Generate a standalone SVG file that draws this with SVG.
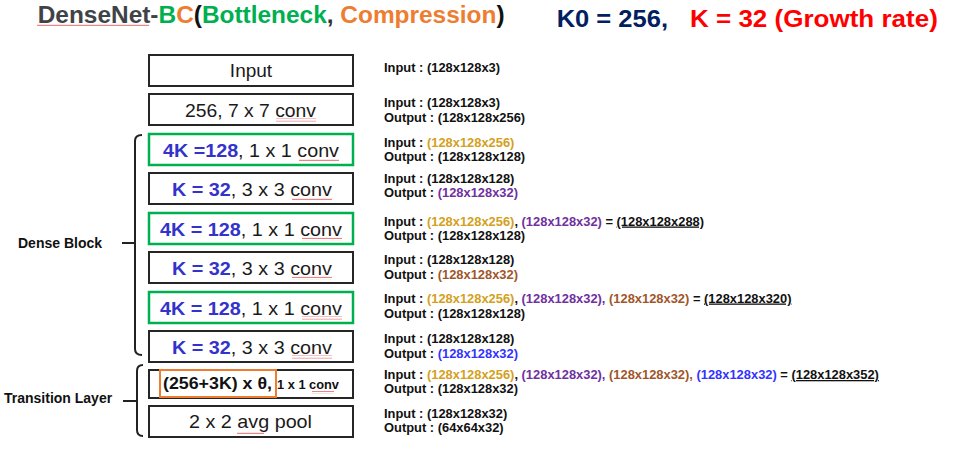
<svg xmlns="http://www.w3.org/2000/svg" width="966" height="451" viewBox="0 0 966 451">
<style>
.t{font-family:"Liberation Sans",Arial,sans-serif;font-weight:bold}
.bx{fill:#fff;stroke:#262626;stroke-width:2}
.gb{fill:#fff;stroke:#00B050;stroke-width:2.5}
.ob{fill:none;stroke:#ED7D31;stroke-width:2}
.bt{font-family:"Liberation Sans",Arial,sans-serif;font-size:19px;fill:#1a1a1a}
.bl{font-weight:bold;fill:#3333CC}
.rt{font-family:"Liberation Sans",Arial,sans-serif;font-weight:bold;font-size:12.9px;fill:#111}
.gd{fill:#D4A020}.pu{fill:#7030A0}.br{fill:#A0562A}.bu{fill:#3333FF}
.ul{text-decoration:underline}
.br2{fill:none;stroke:#222;stroke-width:2}
.sq{fill:url(#sqp)}
</style>
<defs>
<pattern id="sqp" width="4" height="3" patternUnits="userSpaceOnUse">
<path d="M0,2 L1,0.8 L2,2 L3,0.8 L4,2" fill="none" stroke="#E04040" stroke-width="0.7"/>
</pattern>
</defs>
<rect width="966" height="451" fill="#fff"/>

<g id="title">
<text class="t" font-size="23" transform="translate(37.7,23) scale(1.062,1)"><tspan fill="#3F4347">DenseNet-</tspan><tspan fill="#00B050">B</tspan><tspan fill="#ED7D31">C</tspan><tspan fill="#111">(</tspan><tspan fill="#00B050">Bottleneck</tspan><tspan fill="#333">, </tspan><tspan fill="#ED7D31">Compression</tspan><tspan fill="#111">)</tspan></text>
<rect class="sq" x="37" y="24" width="112" height="3"/>
<text class="t" font-size="24" fill="#002060" transform="translate(556.7,27.3) scale(1.063,1)">K0 = 256,</text>
<text class="t" font-size="24" fill="#FF0000" transform="translate(690,27.3) scale(1.084,1)">K = 32 (Growth rate)</text>
</g>

<g id="connectors">
<path class="br2" d="M142,135 Q135,135 135,141 L135,349 Q135,355 142,355 M122,243 L135,243"/>
<path class="br2" d="M143,365 Q137,365 137,371 L137,430 Q137,436 143,436 M123,401 L137,401"/>
</g>

<g id="label-dense-block"><text class="t" x="18" y="248" font-size="14" fill="#111">Dense Block</text></g>
<g id="label-transition"><text class="t" x="4" y="403" font-size="14" fill="#111">Transition Layer</text></g>

<g id="node-input">
<rect class="bx" x="149" y="55" width="204" height="31"/>
<text class="bt" x="251" y="77.3" text-anchor="middle">Input</text>
<text class="rt" x="384" y="72">Input : (128x128x3)</text>
</g>

<g id="node-conv7">
<rect class="bx" x="149" y="94" width="204" height="31"/>
<text class="bt" x="185" y="116.5" textLength="131" lengthAdjust="spacingAndGlyphs">256, 7 x 7 conv</text>
<rect class="sq" x="276" y="118.5" width="40" height="3"/>
<text class="rt" x="384" y="106.5">Input : (128x128x3)</text>
<text class="rt" x="384" y="121.5">Output : (128x128x256)</text>
</g>

<g id="node-bottleneck1">
<rect class="gb" x="149" y="134" width="204" height="31"/>
<text class="bt" x="163" y="156.5" textLength="176" lengthAdjust="spacingAndGlyphs"><tspan class="bl">4K =128</tspan>, 1 x 1 conv</text>
<rect class="sq" x="299" y="158.5" width="40" height="3"/>
<text class="rt" x="384" y="147">Input : <tspan class="gd">(128x128x256)</tspan></text>
<text class="rt" x="384" y="161">Output : (128x128x128)</text>
</g>

<g id="node-conv3-1">
<rect class="bx" x="149" y="173" width="204" height="31"/>
<text class="bt" x="172" y="195.5" textLength="160" lengthAdjust="spacingAndGlyphs"><tspan class="bl">K = 32</tspan>, 3 x 3 conv</text>
<rect class="sq" x="292" y="197.5" width="40" height="3"/>
<text class="rt" x="384" y="183">Input : (128x128x128)</text>
<text class="rt" x="384" y="197">Output : <tspan class="pu">(128x128x32)</tspan></text>
</g>

<g id="node-bottleneck2">
<rect class="gb" x="149" y="213" width="204" height="31"/>
<text class="bt" x="160" y="235.5" textLength="182" lengthAdjust="spacingAndGlyphs"><tspan class="bl">4K = 128</tspan>, 1 x 1 conv</text>
<rect class="sq" x="302" y="237.5" width="40" height="3"/>
<text class="rt" x="384" y="225.5">Input : <tspan class="gd">(128x128x256)</tspan>, <tspan class="pu">(128x128x32)</tspan> = <tspan class="ul">(128x128x288)</tspan></text>
<text class="rt" x="384" y="240">Output : (128x128x128)</text>
</g>

<g id="node-conv3-2">
<rect class="bx" x="149" y="252" width="204" height="31"/>
<text class="bt" x="172" y="274.5" textLength="160" lengthAdjust="spacingAndGlyphs"><tspan class="bl">K = 32</tspan>, 3 x 3 conv</text>
<rect class="sq" x="292" y="276.5" width="40" height="3"/>
<text class="rt" x="384" y="264">Input : (128x128x128)</text>
<text class="rt" x="384" y="279">Output : <tspan class="br">(128x128x32)</tspan></text>
</g>

<g id="node-bottleneck3">
<rect class="gb" x="149" y="292" width="204" height="31"/>
<text class="bt" x="160" y="314.5" textLength="182" lengthAdjust="spacingAndGlyphs"><tspan class="bl">4K = 128</tspan>, 1 x 1 conv</text>
<rect class="sq" x="302" y="316.5" width="40" height="3"/>
<text class="rt" x="384" y="302.5">Input : <tspan class="gd">(128x128x256)</tspan>, <tspan class="pu">(128x128x32),</tspan> <tspan class="br">(128x128x32)</tspan> = <tspan class="ul">(128x128x320)</tspan></text>
<text class="rt" x="384" y="317.5">Output : (128x128x128)</text>
</g>

<g id="node-conv3-3">
<rect class="bx" x="149" y="331" width="204" height="31"/>
<text class="bt" x="172" y="353.5" textLength="160" lengthAdjust="spacingAndGlyphs"><tspan class="bl">K = 32</tspan>, 3 x 3 conv</text>
<rect class="sq" x="292" y="355.5" width="40" height="3"/>
<text class="rt" x="384" y="343">Input : (128x128x128)</text>
<text class="rt" x="384" y="358">Output : <tspan class="bu">(128x128x32)</tspan></text>
</g>

<g id="node-transition-conv">
<rect class="bx" x="149" y="370" width="204" height="28"/>
<rect class="ob" x="160" y="370" width="116" height="27"/>
<text class="t" x="163" y="389" font-size="17" fill="#111" textLength="109" lengthAdjust="spacingAndGlyphs">(256+3K) x θ,</text>
<text class="t" x="277" y="389" font-size="12.5" fill="#111" textLength="62" lengthAdjust="spacingAndGlyphs">1 x 1 conv</text>
<rect class="sq" x="312" y="391" width="22" height="3"/>
<text class="rt" x="384" y="379">Input : <tspan class="gd">(128x128x256)</tspan>, <tspan class="pu">(128x128x32),</tspan> <tspan class="br">(128x128x32),</tspan> <tspan class="bu">(128x128x32)</tspan> = <tspan class="ul">(128x128x352)</tspan></text>
<text class="rt" x="384" y="393">Output : (128x128x32)</text>
</g>

<g id="node-avgpool">
<rect class="bx" x="149" y="406" width="204" height="31"/>
<text class="bt" x="189" y="428.3" textLength="123" lengthAdjust="spacingAndGlyphs">2 x 2 avg pool</text>
<rect class="sq" x="237" y="431" width="27" height="3"/>
<text class="rt" x="384" y="417.5">Input : (128x128x32)</text>
<text class="rt" x="384" y="432">Output : (64x64x32)</text>
</g>
</svg>
